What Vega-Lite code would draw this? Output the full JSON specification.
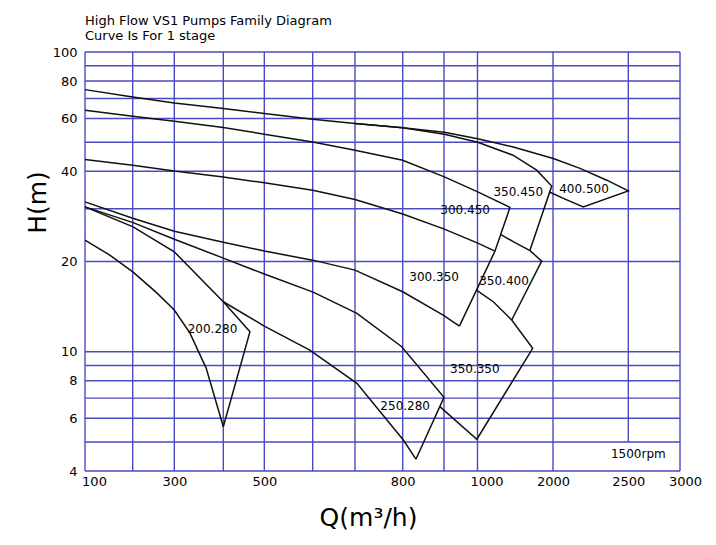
{
  "$schema": "https://vega.github.io/schema/vega-lite/v6.json",
  "autosize": {"type": "none"},
  "padding": {"left": 85, "top": 52, "right": 36, "bottom": 74},
  "width": 595,
  "height": 419,
  "background": "white",
  "config": {"view": {"stroke": null}, "font": "DejaVu Sans"},
  "title": {
    "text": ["High Flow VS1 Pumps Family Diagram", "Curve Is For 1 stage"],
    "anchor": "start", "frame": "group", "font": "DejaVu Sans", "fontSize": 13,
    "fontWeight": "normal", "lineHeight": 15, "offset": 3, "color": "black"
  },
  "datasets": {
    "grid": [
      {"x": 100, "x2": 100, "y": 4, "y2": 100},
      {"x": 200, "x2": 200, "y": 4, "y2": 100},
      {"x": 300, "x2": 300, "y": 4, "y2": 100},
      {"x": 400, "x2": 400, "y": 4, "y2": 100},
      {"x": 500, "x2": 500, "y": 4, "y2": 100},
      {"x": 600, "x2": 600, "y": 4, "y2": 100},
      {"x": 700, "x2": 700, "y": 4, "y2": 100},
      {"x": 800, "x2": 800, "y": 4, "y2": 100},
      {"x": 900, "x2": 900, "y": 4, "y2": 100},
      {"x": 1000, "x2": 1000, "y": 4, "y2": 100},
      {"x": 2000, "x2": 2000, "y": 4, "y2": 100},
      {"x": 2500, "x2": 2500, "y": 5, "y2": 100},
      {"x": 3000, "x2": 3000, "y": 4, "y2": 100},
      {"x": 100, "x2": 3000, "y": 4, "y2": 4},
      {"x": 100, "x2": 3000, "y": 5, "y2": 5},
      {"x": 100, "x2": 3000, "y": 6, "y2": 6},
      {"x": 100, "x2": 3000, "y": 7, "y2": 7},
      {"x": 100, "x2": 3000, "y": 8, "y2": 8},
      {"x": 100, "x2": 3000, "y": 9, "y2": 9},
      {"x": 100, "x2": 3000, "y": 10, "y2": 10},
      {"x": 100, "x2": 3000, "y": 20, "y2": 20},
      {"x": 100, "x2": 3000, "y": 30, "y2": 30},
      {"x": 100, "x2": 3000, "y": 40, "y2": 40},
      {"x": 100, "x2": 3000, "y": 50, "y2": 50},
      {"x": 100, "x2": 3000, "y": 60, "y2": 60},
      {"x": 100, "x2": 3000, "y": 70, "y2": 70},
      {"x": 100, "x2": 3000, "y": 80, "y2": 80},
      {"x": 100, "x2": 3000, "y": 90, "y2": 90},
      {"x": 100, "x2": 3000, "y": 100, "y2": 100}
    ],
    "curves": [
      {"seg": "A", "i": 0, "q": 100, "h": 74.9},
      {"seg": "A", "i": 1, "q": 200, "h": 70.8},
      {"seg": "A", "i": 2, "q": 300, "h": 67.6},
      {"seg": "A", "i": 3, "q": 400, "h": 64.75},
      {"seg": "A", "i": 4, "q": 500, "h": 62.3},
      {"seg": "A", "i": 5, "q": 600, "h": 59.65},
      {"seg": "A", "i": 6, "q": 700, "h": 57.7},
      {"seg": "A", "i": 7, "q": 800, "h": 55.9},
      {"seg": "A", "i": 8, "q": 901, "h": 54.0},
      {"seg": "A", "i": 9, "q": 1003, "h": 51.35},
      {"seg": "A", "i": 10, "q": 1474, "h": 48.2},
      {"seg": "A", "i": 11, "q": 2002, "h": 44.1},
      {"seg": "A", "i": 12, "q": 2179, "h": 40.9},
      {"seg": "A", "i": 13, "q": 2357, "h": 37.35},
      {"seg": "A", "i": 14, "q": 2500, "h": 34.4},
      {"seg": "A", "i": 15, "q": 2201, "h": 30.4},
      {"seg": "A", "i": 16, "q": 2080, "h": 32.3},
      {"seg": "A", "i": 17, "q": 1960, "h": 34.05},
      {"seg": "B", "i": 0, "q": 700, "h": 57.7},
      {"seg": "B", "i": 1, "q": 800, "h": 55.9},
      {"seg": "B", "i": 2, "q": 901, "h": 53.2},
      {"seg": "B", "i": 3, "q": 1003, "h": 50.0},
      {"seg": "B", "i": 4, "q": 1470, "h": 45.25},
      {"seg": "B", "i": 5, "q": 1784, "h": 40.35},
      {"seg": "B", "i": 6, "q": 1983, "h": 35.7},
      {"seg": "B", "i": 7, "q": 1695, "h": 21.8},
      {"seg": "C2", "i": 0, "q": 100, "h": 63.9},
      {"seg": "C2", "i": 1, "q": 200, "h": 61.05},
      {"seg": "C2", "i": 2, "q": 300, "h": 58.75},
      {"seg": "C2", "i": 3, "q": 400, "h": 55.98},
      {"seg": "C2", "i": 4, "q": 500, "h": 53.2},
      {"seg": "C2", "i": 5, "q": 600, "h": 50.1},
      {"seg": "C2", "i": 6, "q": 700, "h": 47.0},
      {"seg": "C2", "i": 7, "q": 800, "h": 43.55},
      {"seg": "C2", "i": 8, "q": 901, "h": 38.3},
      {"seg": "C2", "i": 9, "q": 1003, "h": 34.15},
      {"seg": "C2", "i": 10, "q": 1430, "h": 30.3},
      {"seg": "C2", "i": 11, "q": 1232, "h": 21.67},
      {"seg": "C2", "i": 12, "q": 946, "h": 12.18},
      {"seg": "C3", "i": 0, "q": 100, "h": 43.78},
      {"seg": "C3", "i": 1, "q": 200, "h": 41.9},
      {"seg": "C3", "i": 2, "q": 300, "h": 40.05},
      {"seg": "C3", "i": 3, "q": 400, "h": 38.3},
      {"seg": "C3", "i": 4, "q": 500, "h": 36.6},
      {"seg": "C3", "i": 5, "q": 600, "h": 34.6},
      {"seg": "C3", "i": 6, "q": 700, "h": 32.2},
      {"seg": "C3", "i": 7, "q": 800, "h": 28.8},
      {"seg": "C3", "i": 8, "q": 901, "h": 25.65},
      {"seg": "C3", "i": 9, "q": 1003, "h": 23.03},
      {"seg": "C3", "i": 10, "q": 1232, "h": 21.67},
      {"seg": "E1", "i": 0, "q": 1305, "h": 24.62},
      {"seg": "E1", "i": 1, "q": 1497, "h": 23.12},
      {"seg": "E1", "i": 2, "q": 1695, "h": 21.75},
      {"seg": "E1", "i": 3, "q": 1850, "h": 20.06},
      {"seg": "E1", "i": 4, "q": 1453, "h": 12.76},
      {"seg": "C4", "i": 0, "q": 100, "h": 31.62},
      {"seg": "C4", "i": 1, "q": 200, "h": 27.9},
      {"seg": "C4", "i": 2, "q": 300, "h": 25.25},
      {"seg": "C4", "i": 3, "q": 400, "h": 23.2},
      {"seg": "C4", "i": 4, "q": 500, "h": 21.67},
      {"seg": "C4", "i": 5, "q": 600, "h": 20.21},
      {"seg": "C4", "i": 6, "q": 700, "h": 18.72},
      {"seg": "C4", "i": 7, "q": 800, "h": 15.85},
      {"seg": "C4", "i": 8, "q": 898, "h": 13.25},
      {"seg": "C4", "i": 9, "q": 946, "h": 12.18},
      {"seg": "F1", "i": 0, "q": 997, "h": 16.06},
      {"seg": "F1", "i": 1, "q": 1209, "h": 14.68},
      {"seg": "F1", "i": 2, "q": 1453, "h": 12.76},
      {"seg": "F1", "i": 3, "q": 1731, "h": 10.26},
      {"seg": "F1", "i": 4, "q": 998, "h": 5.105},
      {"seg": "F1", "i": 5, "q": 890, "h": 6.556},
      {"seg": "D", "i": 0, "q": 100, "h": 30.42},
      {"seg": "D", "i": 1, "q": 201, "h": 26.96},
      {"seg": "D", "i": 2, "q": 300, "h": 23.74},
      {"seg": "D", "i": 3, "q": 400, "h": 20.53},
      {"seg": "D", "i": 4, "q": 500, "h": 18.16},
      {"seg": "D", "i": 5, "q": 601, "h": 15.81},
      {"seg": "D", "i": 6, "q": 704, "h": 13.43},
      {"seg": "D", "i": 7, "q": 798, "h": 10.39},
      {"seg": "D", "i": 8, "q": 900, "h": 7.047},
      {"seg": "D", "i": 9, "q": 832, "h": 4.38},
      {"seg": "E", "i": 0, "q": 400, "h": 14.68},
      {"seg": "E", "i": 1, "q": 500, "h": 12.18},
      {"seg": "E", "i": 2, "q": 594, "h": 10.13},
      {"seg": "E", "i": 3, "q": 704, "h": 7.845},
      {"seg": "E", "i": 4, "q": 801.5, "h": 5.077},
      {"seg": "E", "i": 5, "q": 832, "h": 4.38},
      {"seg": "G", "i": 0, "q": 100, "h": 30.42},
      {"seg": "G", "i": 1, "q": 201, "h": 26.1},
      {"seg": "G", "i": 2, "q": 300, "h": 21.54},
      {"seg": "G", "i": 3, "q": 400, "h": 14.68},
      {"seg": "G", "i": 4, "q": 465, "h": 11.66},
      {"seg": "G", "i": 5, "q": 400, "h": 5.62},
      {"seg": "G2", "i": 0, "q": 100, "h": 23.57},
      {"seg": "G2", "i": 1, "q": 152, "h": 21.0},
      {"seg": "G2", "i": 2, "q": 201, "h": 18.44},
      {"seg": "G2", "i": 3, "q": 256, "h": 15.81},
      {"seg": "G2", "i": 4, "q": 300, "h": 13.77},
      {"seg": "G2", "i": 5, "q": 332, "h": 11.54},
      {"seg": "G2", "i": 6, "q": 365, "h": 8.82},
      {"seg": "G2", "i": 7, "q": 400, "h": 5.62}
    ],
    "labels": [
      {"label": "200.280", "q": 378, "h": 11.9},
      {"label": "250.280", "q": 806, "h": 6.59},
      {"label": "350.350", "q": 992, "h": 8.76},
      {"label": "300.350", "q": 876, "h": 17.7},
      {"label": "350.400", "q": 1351, "h": 17.2},
      {"label": "300.450", "q": 963, "h": 29.67},
      {"label": "350.450", "q": 1540, "h": 34.15},
      {"label": "400.500", "q": 2206, "h": 34.78},
      {"label": "1500rpm", "q": 2597, "h": 4.56}
    ]
  },
  "encoding": {
    "x": {
      "field": "x", "type": "quantitative",
      "scale": {
        "type": "linear", "zero": false, "nice": false,
        "domain": [100, 200, 300, 400, 500, 600, 700, 800, 900, 1000, 2000, 2500, 3000],
        "range": [0, 47.7, 89.3, 138.3, 179.3, 227.7, 270, 317.7, 359, 392.5, 468, 543.3, 595]
      },
      "axis": {
        "values": [100, 300, 500, 800, 1000, 2000, 2500, 3000],
        "format": "d",
        "grid": false, "ticks": false, "domain": false,
        "labelFont": "DejaVu Sans", "labelFontSize": 13, "labelColor": "black", "labelPadding": 4,
        "labelFlush": false, "labelOverlap": false,
        "labelOffset": {"condition": [{"test": "datum.value == 100 || datum.value == 1000", "value": 9}, {"test": "datum.value == 3000", "value": 5}], "value": 0},
        "title": "Q(m³/h)", "titleFont": "DejaVu Sans", "titleFontSize": 25, "titleFontWeight": "normal",
        "titleColor": "black", "titleX": 283, "titleY": 46, "titleBaseline": "middle", "titleAnchor": "middle"
      }
    },
    "y": {
      "field": "y", "type": "quantitative",
      "scale": {"type": "log", "domain": [4, 100], "nice": false},
      "axis": {
        "values": [4, 6, 8, 10, 20, 40, 60, 80, 100],
        "format": "d",
        "grid": false, "ticks": false, "domain": false,
        "labelFont": "DejaVu Sans", "labelFontSize": 13, "labelColor": "black", "labelPadding": 8,
        "labelFlush": false, "labelOverlap": false,
        "title": "H(m)", "titleFont": "DejaVu Sans", "titleFontSize": 25, "titleFontWeight": "normal",
        "titleColor": "black", "titleX": -48, "titleY": 150, "titleBaseline": "middle", "titleAngle": -90
      }
    }
  },
  "layer": [
    {
      "data": {"name": "grid"},
      "mark": {"type": "rule", "color": "#4a4ac4", "strokeWidth": 1.4},
      "encoding": {
        "x2": {"field": "x2"},
        "y2": {"field": "y2"}
      }
    },
    {
      "data": {"name": "curves"},
      "mark": {"type": "line", "color": "#111111", "strokeWidth": 1.5},
      "encoding": {
        "x": {"field": "q", "type": "quantitative"},
        "y": {"field": "h", "type": "quantitative"},
        "detail": {"field": "seg"},
        "order": {"field": "i", "type": "quantitative"}
      }
    },
    {
      "data": {"name": "labels"},
      "mark": {"type": "text", "font": "DejaVu Sans", "fontSize": 12, "color": "black"},
      "encoding": {
        "x": {"field": "q", "type": "quantitative"},
        "y": {"field": "h", "type": "quantitative"},
        "text": {"field": "label"}
      }
    }
  ]
}
